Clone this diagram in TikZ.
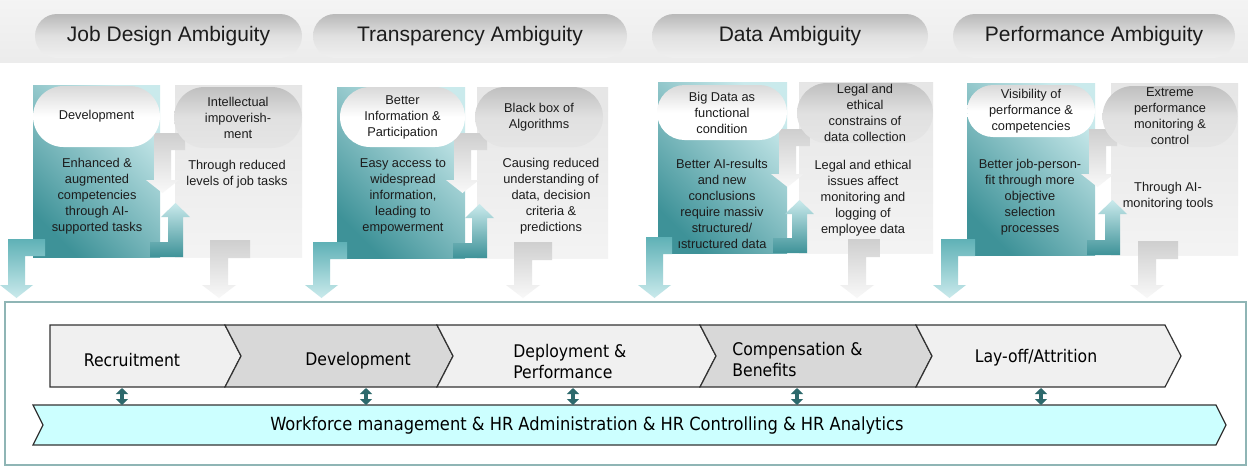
\documentclass[tikz,border=0pt]{standalone}
\usepackage{fontspec}
\setmainfont{Liberation Sans}
\newfontfamily\flowfont{DejaVu Sans Condensed}
\usepackage{tikz}
\usetikzlibrary{positioning}
\usetikzlibrary{arrows.meta}
\usetikzlibrary{shapes.misc,calc}
\definecolor{tealdark}{RGB}{62,146,152}
\definecolor{tealmid}{RGB}{95,177,182}
\definecolor{teallight}{RGB}{202,234,236}
\definecolor{tealdeep}{RGB}{45,105,108}
\definecolor{inkgray}{RGB}{28,28,28}
\definecolor{chevlight}{RGB}{240,240,240}
\definecolor{chevdark}{RGB}{216,216,216}
\definecolor{bandcyan}{RGB}{204,255,255}
\definecolor{framegray}{RGB}{143,181,181}

% bent block arrows: style, bar end, bar edge, shaft side, tip, width
\newcommand{\bentdown}[6]{%
  \shade[#1] (#2,#3) -- (#4,#3) -- (#4,{#5-13}) -- ({#4-8},{#5-13})
    -- ({#4+#6/2},#5) -- ({#4+#6+8},{#5-13}) -- ({#4+#6},{#5-13})
    -- ({#4+#6},{#3+#6}) -- (#2,{#3+#6}) -- cycle;}
\newcommand{\bentup}[6]{%
  \shade[#1] (#2,#3) -- (#4,#3) -- (#4,{#5+14}) -- ({#4+7},{#5+14})
    -- ({#4-#6/2},#5) -- ({#4-#6-7},{#5+14}) -- ({#4-#6},{#5+14})
    -- ({#4-#6},{#3-#6}) -- (#2,{#3-#6}) -- cycle;}

\tikzset{
  title pill/.style={rounded rectangle, inner sep=0pt, minimum height=22pt,
    top color=gray!55, bottom color=gray!12, middle color=gray!24,
    font=\fontsize{10.5}{12}\selectfont, text=inkgray},
  white pill/.style={rounded rectangle, inner sep=0pt, align=center,
    top color=gray!30, bottom color=white, middle color=white,
    font=\fontsize{6.4}{8}\selectfont, text=inkgray},
  gray pill/.style={white pill, top color=gray!50, bottom color=gray!20, middle color=gray!24},
  teal box/.style={top color=tealdark, bottom color=teallight, shading angle=135},
  gray box/.style={top color=gray!20, bottom color=gray!9},
  box text/.style={align=center, inner sep=0pt, font=\fontsize{6.4}{8}\selectfont, text=inkgray},
  teal drop/.style={top color=tealmid, bottom color=teallight},
  teal rise/.style={top color=teallight, bottom color=tealdark},
  gray drop/.style={top color=gray!38, bottom color=gray!5},
  chevron/.style={draw=black!80, line width=0.6pt},
  flow text/.style={font=\flowfont\fontsize{8.7}{10.5}\selectfont, text=black, inner sep=0pt, align=left},
  updown/.style={{Triangle[width=6pt,length=3pt]}-{Triangle[width=6pt,length=3pt]}, line width=1.8pt, draw=tealdeep}
}

\begin{document}
\begin{tikzpicture}[x=0.5pt, y=-0.5pt]
  \useasboundingbox[fill=white] (0,0) rectangle (1248,467);

  % heading strip
  \shade[top color=gray!9, bottom color=gray!15] (0,0) rectangle (1248,62);
  \node[title pill, minimum width=133.5pt] (jobtitle) at (168.5,36) {Job Design Ambiguity};
  \node[title pill, minimum width=157pt] (transtitle) at (470,36) {Transparency Ambiguity};
  \node[title pill, minimum width=138pt] (datatitle) at (790,36) {Data Ambiguity};
  \node[title pill, minimum width=141pt] (perftitle) at (1094,36) {Performance Ambiguity};

  % process frame
  \draw[framegray, line width=1pt] (5,302) rectangle (1246,465);

  % job design
  \shade[teal box] (33,85) rectangle (160,257);
  \shade[gray box] (175,85) rectangle (302,257);
  \bentdown{teal drop}{45}{239}{8}{298}{17}
  \bentdown{gray drop}{250}{240}{210}{298}{18}
  \bentdown{gray drop}{185}{133}{154}{193}{17}
  \bentup{teal rise}{150}{257}{183}{203}{15}
  \node[white pill, minimum width=63.5pt, minimum height=30.5pt] (jobgain) at (96.5,116.5) {Development};
  \node[gray pill, minimum width=64pt, minimum height=30.5pt] (jobloss) at (238,117.5) {Intellectual\\impoverish-\\ment};
  \node[box text] (jobgaintext) at (97,196) {Enhanced \&\\augmented\\competencies\\through AI-\\supported tasks};
  \node[box text] (joblosstext) at (237,174) {Through reduced\\levels of job tasks};

  % transparency
  \shade[teal box] (337,87) rectangle (465,258);
  \shade[gray box] (477,87) rectangle (608,258);
  \bentdown{teal drop}{347}{242}{313}{298}{17}
  \bentdown{gray drop}{552}{242}{514}{298}{18}
  \bentdown{gray drop}{487}{133}{454}{193}{17}
  \bentup{teal rise}{453}{258}{487}{204}{15}
  \node[white pill, minimum width=62.5pt, minimum height=30pt] (transgain) at (402.5,117) {Better\\Information \&\\Participation};
  \node[gray pill, minimum width=64pt, minimum height=30pt] (transloss) at (539,117) {Black box of\\Algorithms};
  \node[box text] (transgaintext) at (403,196) {Easy access to\\widespread\\information,\\leading to\\empowerment};
  \node[box text] (translosstext) at (551,196) {Causing reduced\\understanding of\\data, decision\\criteria \&\\predictions};

  % data
  \shade[teal box] (658,82) rectangle (787,253);
  \shade[gray box] (799,82) rectangle (933,253);
  \bentdown{teal drop}{672}{237}{646}{298}{17}
  \bentdown{gray drop}{880}{239}{848}{298}{18}
  \bentdown{gray drop}{810}{129}{779}{187}{17}
  \bentup{teal rise}{773}{253}{807}{200}{15}
  \node[white pill, minimum width=65pt, minimum height=27.5pt] (datagain) at (722,112.5) {Big Data as\\functional\\condition};
  \node[gray pill, minimum width=68pt, minimum height=30pt] (dataloss) at (865,113) {Legal and\\ethical\\constrains of\\data collection};
  \node[box text] (datagaintext) at (722,204) {Better AI-results\\and new\\conclusions\\require massiv\\structured/\\ıstructured data};
  \node[box text] (datalosstext) at (863,198.5) {Legal and ethical\\issues affect\\monitoring and\\logging of\\employee data};

  % performance
  \shade[teal box] (967,83) rectangle (1095,255);
  \shade[gray box] (1111,83) rectangle (1238,255);
  \bentdown{teal drop}{975}{239}{941}{298}{17}
  \bentdown{gray drop}{1178}{241}{1138}{298}{18}
  \bentdown{gray drop}{1117}{129}{1089}{187}{17}
  \bentup{teal rise}{1087}{255}{1120}{200}{15}
  \node[white pill, minimum width=64pt, minimum height=26pt] (perfgain) at (1031,111) {Visibility of\\performance \&\\competencies};
  \node[gray pill, minimum width=67.5pt, minimum height=30.5pt] (perfloss) at (1170,116.5) {Extreme\\performance\\monitoring \&\\control};
  \node[box text] (perfgaintext) at (1030,197.5) {Better job-person-\\fit through more\\objective\\selection\\processes};
  \node[box text] (perflosstext) at (1168,196) {Through AI-\\monitoring tools};

  % HR process chain
  \foreach \xa/\xb/\col/\dent in {50/225/chevlight/0, 225/437/chevdark/16, 437/700/chevlight/16, 700/916/chevdark/16, 916/1165/chevlight/16}
    \draw[chevron, fill=\col] (\xa,325) -- (\xb,325) -- (\xb+16,356) -- (\xb,387) -- (\xa,387) -- (\xa+\dent,356) -- cycle;
  \draw[chevron, fill=bandcyan] (33,405) -- (1216,405) -- (1226,425) -- (1216,445) -- (33,445) -- (43,425) -- cycle;
  \node[flow text] (recruit) at (132,360) {Recruitment};
  \node[flow text] (develop) at (358,361) {Development};
  \node[flow text, anchor=west] (deploy) at (513,361.5) {Deployment \&\\Performance};
  \node[flow text, anchor=west] (compens) at (732,359.5) {Compensation \&\\Benefits};
  \node[flow text] (layoff) at (1036,358) {Lay-off/Attrition};
  \node[flow text, font=\flowfont\fontsize{9.05}{11}\selectfont] (hrband) at (587,425) {Workforce management \& HR Administration \& HR Controlling \& HR Analytics};

  \foreach \ux [count=\i] in {122,366,573,797,1041}
    \coordinate (link\i) at (\ux,388);
  \coordinate (bandtop) at (0,405);
  \foreach \i in {1,...,5}
    \draw[updown] (link\i) -- (link\i |- bandtop);
\end{tikzpicture}
\end{document}
